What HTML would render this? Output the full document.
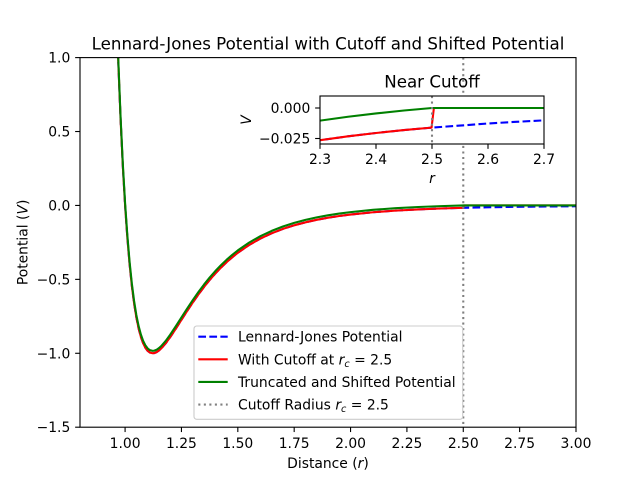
<!DOCTYPE html>
<html><head><meta charset="utf-8"><style>
html,body{margin:0;padding:0;background:#fff;}
svg{display:block;}
text{font-family:"DejaVu Sans","Liberation Sans",sans-serif;fill:#000;}
</style></head><body>
<svg width="640" height="480" viewBox="0 0 640 480" xmlns="http://www.w3.org/2000/svg">
<defs>
<clipPath id="cm"><rect x="80" y="57.6" width="496" height="369.6"/></clipPath>
<clipPath id="ci"><rect x="320" y="96" width="224" height="48"/></clipPath>
</defs>
<rect width="640" height="480" fill="#fff"/>

<!-- main curves -->
<g clip-path="url(#cm)" fill="none" stroke-width="2.08" stroke-linejoin="round">
<path stroke="#0000ff" stroke-dasharray="7.71 3.33" d="M116.07,-4.20 L118.33,63.09 L120.58,119.41 L122.84,166.40 L125.09,205.44 L127.35,237.73 L129.60,264.27 L131.85,285.93 L134.11,303.44 L136.36,317.44 L138.62,328.44 L140.87,336.92 L143.13,343.26 L145.38,347.80 L147.64,350.82 L149.89,352.57 L152.71,353.28 L154.40,353.05 L156.65,352.11 L158.91,350.57 L161.16,348.54 L165.67,343.35 L170.18,337.16 L175.82,328.65 L181.45,319.82 L187.09,311.05 L192.73,302.57 L198.36,294.53 L204.00,286.98 L209.64,280.00 L215.27,273.55 L220.91,267.63 L226.55,262.23 L232.18,257.29 L237.82,252.80 L249.09,245.01 L260.36,238.59 L271.64,233.29 L282.91,228.92 L294.18,225.31 L305.45,222.32 L316.73,219.82 L328.00,217.74 L339.27,216.00 L350.55,214.54 L373.09,212.25 L395.64,210.61 L418.18,209.41 L440.73,208.52 L463.27,207.85 L485.82,207.35 L508.36,206.96 L530.91,206.66 L553.45,206.43 L576,206.25"/>
<path stroke="#ff0000" d="M116.07,-4.20 L118.33,63.09 L120.58,119.41 L122.84,166.40 L125.09,205.44 L127.35,237.73 L129.60,264.27 L131.85,285.93 L134.11,303.44 L136.36,317.44 L138.62,328.44 L140.87,336.92 L143.13,343.26 L145.38,347.80 L147.64,350.82 L149.89,352.57 L152.71,353.28 L154.40,353.05 L156.65,352.11 L158.91,350.57 L161.16,348.54 L165.67,343.35 L170.18,337.16 L175.82,328.65 L181.45,319.82 L187.09,311.05 L192.73,302.57 L198.36,294.53 L204.00,286.98 L209.64,280.00 L215.27,273.55 L220.91,267.63 L226.55,262.23 L232.18,257.29 L237.82,252.80 L249.09,245.01 L260.36,238.59 L271.64,233.29 L282.91,228.92 L294.18,225.31 L305.45,222.32 L316.73,219.82 L328.00,217.74 L339.27,216.00 L350.55,214.54 L373.09,212.25 L395.64,210.61 L418.18,209.41 L440.73,208.52 L463.10,207.85 L464.04,205.44 L576,205.44"/>
<path stroke="#008000" d="M116.07,-6.61 L118.33,60.68 L120.58,117.00 L122.84,163.99 L125.09,203.03 L127.35,235.32 L129.60,261.86 L131.85,283.52 L134.11,301.03 L136.36,315.03 L138.62,326.03 L140.87,334.51 L143.13,340.85 L145.38,345.39 L147.64,348.41 L149.89,350.16 L152.71,350.87 L154.40,350.64 L156.65,349.70 L158.91,348.16 L161.16,346.13 L165.67,340.94 L170.18,334.75 L175.82,326.24 L181.45,317.41 L187.09,308.64 L192.73,300.16 L198.36,292.12 L204.00,284.57 L209.64,277.59 L215.27,271.14 L220.91,265.22 L226.55,259.82 L232.18,254.88 L237.82,250.39 L249.09,242.60 L260.36,236.18 L271.64,230.88 L282.91,226.51 L294.18,222.90 L305.45,219.91 L316.73,217.41 L328.00,215.33 L339.27,213.59 L350.55,212.13 L373.09,209.84 L395.64,208.20 L418.18,207.00 L440.73,206.11 L463.27,205.44 L576,205.44"/>
<line x1="463.27" y1="57.6" x2="463.27" y2="427.2" stroke="#808080" stroke-dasharray="2.08 3.44"/>
</g>

<!-- main spines -->
<rect x="80" y="57.6" width="496" height="369.6" fill="none" stroke="#000" stroke-width="1.11"/>

<!-- main ticks -->
<g stroke="#000" stroke-width="1.11">
<line x1="125.09" y1="427.2" x2="125.09" y2="432.06"/>
<line x1="181.45" y1="427.2" x2="181.45" y2="432.06"/>
<line x1="237.82" y1="427.2" x2="237.82" y2="432.06"/>
<line x1="294.18" y1="427.2" x2="294.18" y2="432.06"/>
<line x1="350.55" y1="427.2" x2="350.55" y2="432.06"/>
<line x1="406.91" y1="427.2" x2="406.91" y2="432.06"/>
<line x1="463.27" y1="427.2" x2="463.27" y2="432.06"/>
<line x1="519.64" y1="427.2" x2="519.64" y2="432.06"/>
<line x1="576" y1="427.2" x2="576" y2="432.06"/>
<line x1="75.14" y1="57.6" x2="80" y2="57.6"/>
<line x1="75.14" y1="131.52" x2="80" y2="131.52"/>
<line x1="75.14" y1="205.44" x2="80" y2="205.44"/>
<line x1="75.14" y1="279.36" x2="80" y2="279.36"/>
<line x1="75.14" y1="353.28" x2="80" y2="353.28"/>
<line x1="75.14" y1="427.2" x2="80" y2="427.2"/>
</g>
<g font-size="13.89" text-anchor="middle">
<text x="125.09" y="448">1.00</text>
<text x="181.45" y="448">1.25</text>
<text x="237.82" y="448">1.50</text>
<text x="294.18" y="448">1.75</text>
<text x="350.55" y="448">2.00</text>
<text x="406.91" y="448">2.25</text>
<text x="463.27" y="448">2.50</text>
<text x="519.64" y="448">2.75</text>
<text x="576" y="448">3.00</text>
</g>
<g font-size="13.89" text-anchor="end">
<text x="70.3" y="62.6">1.0</text>
<text x="70.3" y="136.5">0.5</text>
<text x="70.3" y="210.4">0.0</text>
<text x="70.3" y="284.4">−0.5</text>
<text x="70.3" y="358.3">−1.0</text>
<text x="70.3" y="432.2">−1.5</text>
</g>
<text x="328" y="468" font-size="13.89" text-anchor="middle">Distance (<tspan font-style="italic">r</tspan>)</text>
<text transform="translate(27.5,242.4) rotate(-90)" font-size="13.89" text-anchor="middle">Potential (<tspan font-style="italic">V</tspan>)</text>
<text x="328" y="49.3" font-size="16.67" text-anchor="middle">Lennard-Jones Potential with Cutoff and Shifted Potential</text>

<!-- legend -->
<rect x="194" y="326" width="268.7" height="93.3" rx="2.8" ry="2.8" fill="#fff" fill-opacity="0.8" stroke="#cccccc" stroke-width="1.11"/>
<g stroke-width="2.08" fill="none">
<line x1="198.3" y1="336.7" x2="227.7" y2="336.7" stroke="#0000ff" stroke-dasharray="7.71 3.33"/>
<line x1="198.3" y1="359.3" x2="227.7" y2="359.3" stroke="#ff0000"/>
<line x1="198.3" y1="381.9" x2="227.7" y2="381.9" stroke="#008000"/>
<line x1="198.3" y1="404.6" x2="227.7" y2="404.6" stroke="#808080" stroke-dasharray="2.08 3.44"/>
</g>
<g font-size="13.89">
<text x="238" y="341.7">Lennard-Jones Potential</text>
<text x="238" y="364.3">With Cutoff at <tspan font-style="italic">r</tspan><tspan font-style="italic" font-size="9.7" dy="2.5">c</tspan><tspan dy="-2.5"> = 2.5</tspan></text>
<text x="238" y="386.9">Truncated and Shifted Potential</text>
<text x="238" y="409.6">Cutoff Radius <tspan font-style="italic">r</tspan><tspan font-style="italic" font-size="9.7" dy="2.5">c</tspan><tspan dy="-2.5"> = 2.5</tspan></text>
</g>

<!-- inset -->
<rect x="320" y="96" width="224" height="48" fill="#fff"/>
<g clip-path="url(#ci)" fill="none" stroke-width="2.08" stroke-linejoin="round">
<path stroke="#0000ff" stroke-dasharray="7.71 3.33" d="M292,144.71 L320,140.21 L348,136.33 L376,132.99 L404,130.09 L432,127.58 L460,125.59 L488,123.49 L516,121.82 L544,120.36 L572,119.07"/>
<path stroke="#ff0000" d="M292,144.71 L320,140.21 L348,136.33 L376,132.99 L404,130.09 L431.55,127.60 L433.9,108 L572,108"/>
<path stroke="#008000" d="M292,125.13 L320,120.63 L348,116.75 L376,113.41 L404,110.51 L432,108 L572,108"/>
<line x1="432" y1="96" x2="432" y2="144" stroke="#808080" stroke-dasharray="2.08 3.44"/>
</g>
<rect x="320" y="96" width="224" height="48" fill="none" stroke="#000" stroke-width="1.11"/>
<g stroke="#000" stroke-width="1.11">
<line x1="320" y1="144" x2="320" y2="148.86"/>
<line x1="376" y1="144" x2="376" y2="148.86"/>
<line x1="432" y1="144" x2="432" y2="148.86"/>
<line x1="488" y1="144" x2="488" y2="148.86"/>
<line x1="544" y1="144" x2="544" y2="148.86"/>
<line x1="315.14" y1="108" x2="320" y2="108"/>
<line x1="315.14" y1="138.5" x2="320" y2="138.5"/>
</g>
<g font-size="13.89" text-anchor="middle">
<text x="320" y="164">2.3</text>
<text x="376" y="164">2.4</text>
<text x="432" y="164">2.5</text>
<text x="488" y="164">2.6</text>
<text x="544" y="164">2.7</text>
</g>
<g font-size="13.89" text-anchor="end">
<text x="310.3" y="113">0.000</text>
<text x="310.3" y="143.5">−0.025</text>
</g>
<text x="432" y="183" font-size="13.89" text-anchor="middle" font-style="italic">r</text>
<text transform="translate(251,120) rotate(-90)" font-size="13.89" text-anchor="middle" font-style="italic">V</text>
<text x="432" y="87.7" font-size="16.67" text-anchor="middle">Near Cutoff</text>
</svg>
</body></html>
